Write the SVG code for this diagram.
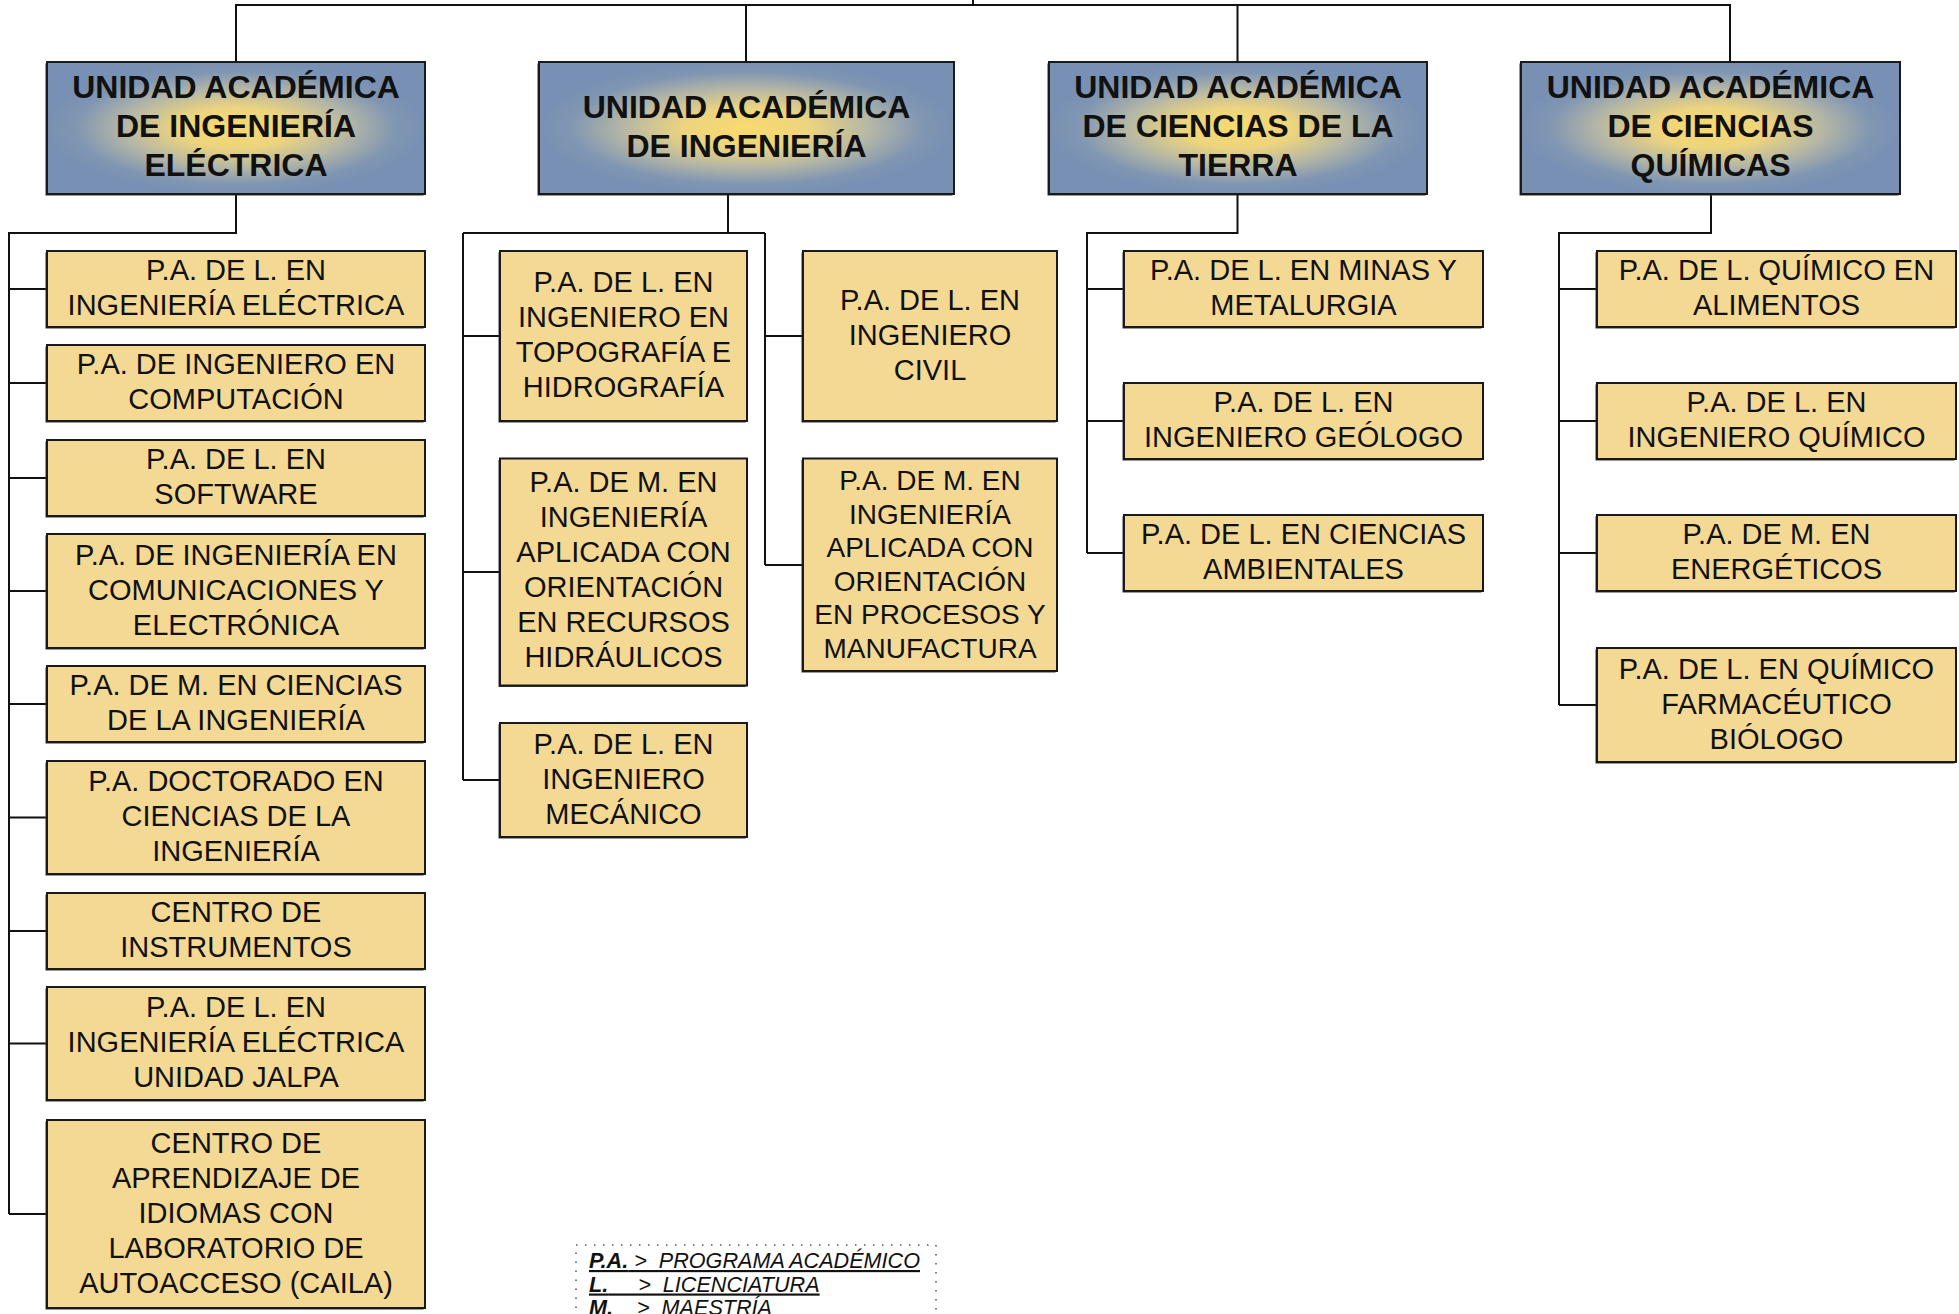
<svg xmlns="http://www.w3.org/2000/svg" width="1959" height="1314" viewBox="0 0 1959 1314">
<defs>
<radialGradient id="ug" cx="0.5" cy="0.5" r="0.5" gradientUnits="objectBoundingBox">
<stop offset="0" stop-color="#F8DA6E"/>
<stop offset="0.3" stop-color="#EDD47E"/>
<stop offset="0.6" stop-color="#B4B6A6"/>
<stop offset="0.85" stop-color="#8096B2"/>
<stop offset="1" stop-color="#7890B3"/>
</radialGradient>
<style>
.u{fill:url(#ug);stroke:#1a1a1a;stroke-width:2}
.p{fill:#F4D994;stroke:#1a1a1a;stroke-width:2}
.sh{fill:#333}
.ut{font-family:"Liberation Sans",Arial,sans-serif;font-weight:bold;font-size:32px;fill:#111;text-anchor:middle}
.pt{font-family:"Liberation Sans",Arial,sans-serif;font-size:29px;fill:#111;text-anchor:middle}
.pt2{font-family:"Liberation Sans",Arial,sans-serif;font-size:28px;fill:#111;text-anchor:middle}
.c{fill:none;stroke:#111;stroke-width:2}
.lg{fill:none;stroke:#555;stroke-width:1.5;stroke-dasharray:1.5 7.5}
.lt{font-family:"Liberation Sans",Arial,sans-serif;font-size:21.6px;font-style:italic;fill:#111;text-decoration:underline}
</style>
</defs>
<rect width="1959" height="1314" fill="#fff"/>

<g id="connectors">
<path class="c" d="M973,0 V5 M236,61 V5 H1730 V61 M746,5 V61 M1237.5,5 V61"/>
<path class="c" d="M236,194 V233 H9 V1214 M9,289 H47 M9,383 H47 M9,478 H47 M9,591 H47 M9,704 H47 M9,817.5 H47 M9,931 H47 M9,1043.5 H47 M9,1214 H47"/>
<path class="c" d="M728,194 V233 M463,233 H765 M463,233 V780 M463,336 H500 M463,572 H500 M463,780 H500 M765,233 V565 M765,336 H803 M765,565 H803"/>
<path class="c" d="M1237.5,194 V233 H1087 V553 M1087,289 H1124 M1087,421 H1124 M1087,553 H1124"/>
<path class="c" d="M1711,194 V233 H1559 V705 M1559,289 H1597 M1559,421 H1597 M1559,553 H1597 M1559,705 H1597"/>
</g>

<g id="unidad-electrica">
<rect class="sh" x="45.5" y="63.5" width="378" height="132"/>
<rect class="u" x="47" y="62" width="378" height="132"/>
<text class="ut" x="236" y="98">UNIDAD ACADÉMICA</text>
<text class="ut" x="236" y="137">DE INGENIERÍA</text>
<text class="ut" x="236" y="175.5">ELÉCTRICA</text>
</g>
<g id="unidad-ingenieria">
<rect class="sh" x="537.5" y="63.5" width="415" height="132"/>
<rect class="u" x="539" y="62" width="415" height="132"/>
<text class="ut" x="746.5" y="118">UNIDAD ACADÉMICA</text>
<text class="ut" x="746.5" y="157">DE INGENIERÍA</text>
</g>
<g id="unidad-tierra">
<rect class="sh" x="1047.5" y="63.5" width="378" height="132"/>
<rect class="u" x="1049" y="62" width="378" height="132"/>
<text class="ut" x="1238" y="98">UNIDAD ACADÉMICA</text>
<text class="ut" x="1238" y="137">DE CIENCIAS DE LA</text>
<text class="ut" x="1238" y="175.5">TIERRA</text>
</g>
<g id="unidad-quimicas">
<rect class="sh" x="1519.5" y="63.5" width="379" height="132"/>
<rect class="u" x="1521" y="62" width="379" height="132"/>
<text class="ut" x="1710.5" y="98">UNIDAD ACADÉMICA</text>
<text class="ut" x="1710.5" y="137">DE CIENCIAS</text>
<text class="ut" x="1710.5" y="175.5">QUÍMICAS</text>
</g>

<g id="e1"><rect class="sh" x="45.5" y="252.5" width="378" height="76"/><rect class="p" x="47" y="251" width="378" height="76"/>
<text class="pt" x="236" y="280">P.A. DE L. EN</text><text class="pt" x="236" y="315">INGENIERÍA ELÉCTRICA</text></g>
<g id="e2"><rect class="sh" x="45.5" y="346.5" width="378" height="76"/><rect class="p" x="47" y="345" width="378" height="76"/>
<text class="pt" x="236" y="374">P.A. DE INGENIERO EN</text><text class="pt" x="236" y="409">COMPUTACIÓN</text></g>
<g id="e3"><rect class="sh" x="45.5" y="441.5" width="378" height="76"/><rect class="p" x="47" y="440" width="378" height="76"/>
<text class="pt" x="236" y="469">P.A. DE L. EN</text><text class="pt" x="236" y="504">SOFTWARE</text></g>
<g id="e4"><rect class="sh" x="45.5" y="535.5" width="378" height="114"/><rect class="p" x="47" y="534" width="378" height="114"/>
<text class="pt" x="236" y="564.5">P.A. DE INGENIERÍA EN</text><text class="pt" x="236" y="599.5">COMUNICACIONES Y</text><text class="pt" x="236" y="634.5">ELECTRÓNICA</text></g>
<g id="e5"><rect class="sh" x="45.5" y="667.5" width="378" height="76"/><rect class="p" x="47" y="666" width="378" height="76"/>
<text class="pt" x="236" y="695">P.A. DE M. EN CIENCIAS</text><text class="pt" x="236" y="730">DE LA INGENIERÍA</text></g>
<g id="e6"><rect class="sh" x="45.5" y="762.5" width="378" height="113"/><rect class="p" x="47" y="761" width="378" height="113"/>
<text class="pt" x="236" y="791">P.A. DOCTORADO EN</text><text class="pt" x="236" y="826">CIENCIAS DE LA</text><text class="pt" x="236" y="861">INGENIERÍA</text></g>
<g id="e7"><rect class="sh" x="45.5" y="894.5" width="378" height="76"/><rect class="p" x="47" y="893" width="378" height="76"/>
<text class="pt" x="236" y="922">CENTRO DE</text><text class="pt" x="236" y="957">INSTRUMENTOS</text></g>
<g id="e8"><rect class="sh" x="45.5" y="988.5" width="378" height="113"/><rect class="p" x="47" y="987" width="378" height="113"/>
<text class="pt" x="236" y="1017">P.A. DE L. EN</text><text class="pt" x="236" y="1052">INGENIERÍA ELÉCTRICA</text><text class="pt" x="236" y="1087">UNIDAD JALPA</text></g>
<g id="e9"><rect class="sh" x="45.5" y="1121.5" width="378" height="188"/><rect class="p" x="47" y="1120" width="378" height="188"/>
<text class="pt" x="236" y="1152.5">CENTRO DE</text><text class="pt" x="236" y="1187.5">APRENDIZAJE DE</text><text class="pt" x="236" y="1222.5">IDIOMAS CON</text><text class="pt" x="236" y="1257.5">LABORATORIO DE</text><text class="pt" x="236" y="1292.5">AUTOACCESO (CAILA)</text></g>

<g id="i1"><rect class="sh" x="498.5" y="252.5" width="247" height="170"/><rect class="p" x="500" y="251" width="247" height="170"/>
<text class="pt" x="623.5" y="292">P.A. DE L. EN</text><text class="pt" x="623.5" y="327">INGENIERO EN</text><text class="pt" x="623.5" y="362">TOPOGRAFÍA E</text><text class="pt" x="623.5" y="397">HIDROGRAFÍA</text></g>
<g id="i2"><rect class="sh" x="498.5" y="460" width="247" height="227"/><rect class="p" x="500" y="458.5" width="247" height="227"/>
<text class="pt" x="623.5" y="492">P.A. DE M. EN</text><text class="pt" x="623.5" y="527">INGENIERÍA</text><text class="pt" x="623.5" y="562">APLICADA CON</text><text class="pt" x="623.5" y="597">ORIENTACIÓN</text><text class="pt" x="623.5" y="632">EN RECURSOS</text><text class="pt" x="623.5" y="667">HIDRÁULICOS</text></g>
<g id="i3"><rect class="sh" x="498.5" y="724.5" width="247" height="114"/><rect class="p" x="500" y="723" width="247" height="114"/>
<text class="pt" x="623.5" y="753.5">P.A. DE L. EN</text><text class="pt" x="623.5" y="788.5">INGENIERO</text><text class="pt" x="623.5" y="823.5">MECÁNICO</text></g>
<g id="i4"><rect class="sh" x="801.5" y="252.5" width="254" height="170"/><rect class="p" x="803" y="251" width="254" height="170"/>
<text class="pt" x="930" y="309.5">P.A. DE L. EN</text><text class="pt" x="930" y="344.5">INGENIERO</text><text class="pt" x="930" y="379.5">CIVIL</text></g>
<g id="i5"><rect class="sh" x="801.5" y="460" width="254" height="212.5"/><rect class="p" x="803" y="458.5" width="254" height="212.5"/>
<text class="pt2" x="930" y="490">P.A. DE M. EN</text><text class="pt2" x="930" y="523.5">INGENIERÍA</text><text class="pt2" x="930" y="557">APLICADA CON</text><text class="pt2" x="930" y="590.5">ORIENTACIÓN</text><text class="pt2" x="930" y="624">EN PROCESOS Y</text><text class="pt2" x="930" y="657.5">MANUFACTURA</text></g>

<g id="t1"><rect class="sh" x="1122.5" y="252.5" width="359" height="76"/><rect class="p" x="1124" y="251" width="359" height="76"/>
<text class="pt" x="1303.5" y="280">P.A. DE L. EN MINAS Y</text><text class="pt" x="1303.5" y="315">METALURGIA</text></g>
<g id="t2"><rect class="sh" x="1122.5" y="384.5" width="359" height="76"/><rect class="p" x="1124" y="383" width="359" height="76"/>
<text class="pt" x="1303.5" y="412">P.A. DE L. EN</text><text class="pt" x="1303.5" y="447">INGENIERO GEÓLOGO</text></g>
<g id="t3"><rect class="sh" x="1122.5" y="516.5" width="359" height="76"/><rect class="p" x="1124" y="515" width="359" height="76"/>
<text class="pt" x="1303.5" y="544">P.A. DE L. EN CIENCIAS</text><text class="pt" x="1303.5" y="579">AMBIENTALES</text></g>

<g id="q1"><rect class="sh" x="1595.5" y="252.5" width="359" height="76"/><rect class="p" x="1597" y="251" width="359" height="76"/>
<text class="pt" x="1776.5" y="280">P.A. DE L. QUÍMICO EN</text><text class="pt" x="1776.5" y="315">ALIMENTOS</text></g>
<g id="q2"><rect class="sh" x="1595.5" y="384.5" width="359" height="76"/><rect class="p" x="1597" y="383" width="359" height="76"/>
<text class="pt" x="1776.5" y="412">P.A. DE L. EN</text><text class="pt" x="1776.5" y="447">INGENIERO QUÍMICO</text></g>
<g id="q3"><rect class="sh" x="1595.5" y="516.5" width="359" height="76"/><rect class="p" x="1597" y="515" width="359" height="76"/>
<text class="pt" x="1776.5" y="544">P.A. DE M. EN</text><text class="pt" x="1776.5" y="579">ENERGÉTICOS</text></g>
<g id="q4"><rect class="sh" x="1595.5" y="649.5" width="359" height="114"/><rect class="p" x="1597" y="648" width="359" height="114"/>
<text class="pt" x="1776.5" y="678.5">P.A. DE L. EN QUÍMICO</text><text class="pt" x="1776.5" y="713.5">FARMACÉUTICO</text><text class="pt" x="1776.5" y="748.5">BIÓLOGO</text></g>

<g id="legend">
<rect class="lg" x="576" y="1245" width="360" height="90"/>
<text class="lt" x="589" y="1268" xml:space="preserve"><tspan font-weight="bold">P.A.</tspan> &gt;  PROGRAMA ACADÉMICO</text>
<text class="lt" x="589" y="1291.5" xml:space="preserve"><tspan font-weight="bold">L.</tspan>     &gt;  LICENCIATURA</text>
<text class="lt" x="589" y="1315" xml:space="preserve"><tspan font-weight="bold">M.</tspan>    &gt;  MAESTRÍA</text>
</g>
</svg>
